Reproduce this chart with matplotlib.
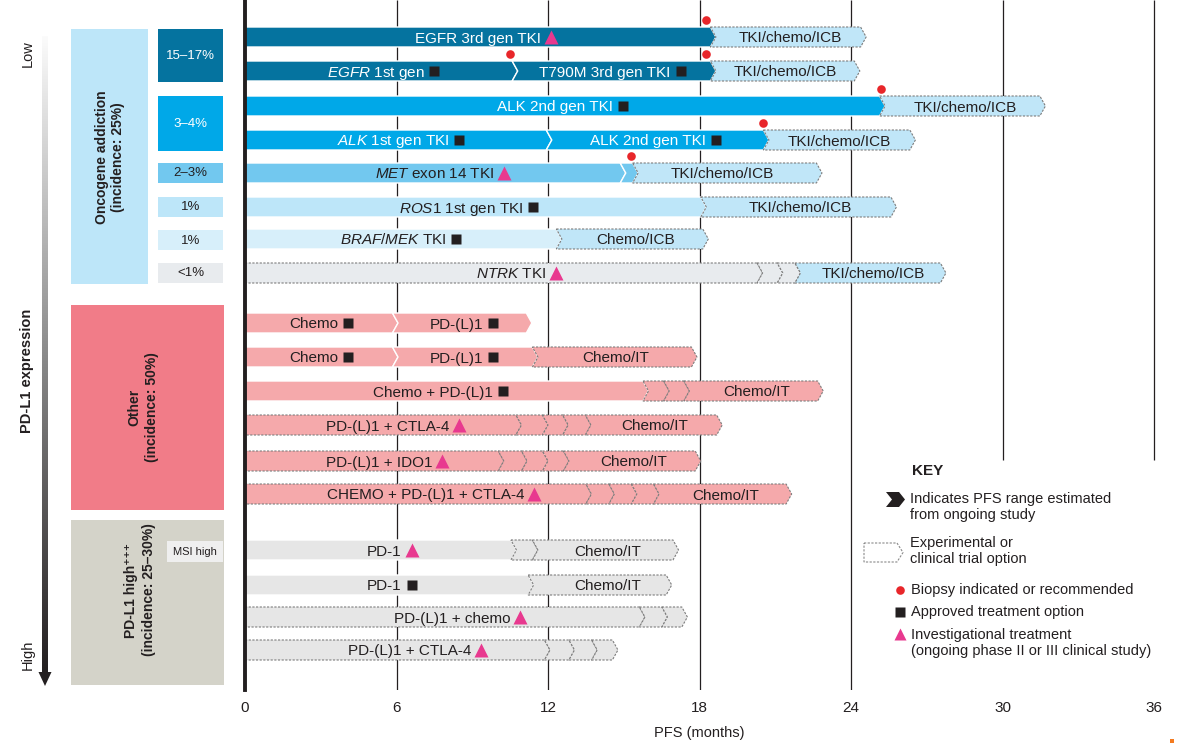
import numpy as np
import matplotlib
matplotlib.use('Agg')
import matplotlib.pyplot as plt
from matplotlib import font_manager as fm
from matplotlib.patches import Polygon, Rectangle
from matplotlib.colors import LinearSegmentedColormap

names = {f.name for f in fm.fontManager.ttflist}
NARROW = 'Liberation Sans Narrow' if 'Liberation Sans Narrow' in names else 'Liberation Sans'
SANS = 'Liberation Sans'
plt.rcParams['font.family'] = [SANS, 'DejaVu Sans']
plt.rcParams['mathtext.fontset'] = 'custom'
plt.rcParams['mathtext.rm'] = NARROW
plt.rcParams['mathtext.it'] = NARROW + ':italic'
plt.rcParams['mathtext.bf'] = SANS + ':bold'

# ---------------- data (PFS in months) ----------------
# segment boundaries per row, top to bottom
seg_bounds = [
    [0, 18.65, 24.6],
    [0, 10.8, 18.65, 24.35],
    [0, 25.35, 31.7],
    [0, 12.15, 20.75, 26.55],
    [0, 15.08, 15.57, 22.85],
    [0, 18.27, 25.8],
    [0, 12.55, 18.35],
    [0, 20.5, 21.3, 22.0, 27.76],
    [0, 6.06, 11.36],
    [0, 6.06, 11.6, 17.9],
    [0, 15.98, 16.8, 17.6, 22.9],
    [0, 10.95, 12.0, 12.8, 13.7, 18.9],
    [0, 10.25, 11.17, 12.0, 12.83, 18.05],
    [0, 13.72, 14.63, 15.52, 16.4, 21.65],
    [0, 10.75, 11.6, 17.17],
    [0, 11.43, 16.9],
    [0, 15.84, 16.73, 17.52],
    [0, 12.08, 13.05, 13.95, 14.77],
]
# S = established option, D = experimental / clinical trial option
seg_kind = ['SD', 'SSD', 'SD', 'SSD', 'SSD', 'SD', 'SD', 'DDDD',
            'SS', 'SSD', 'SDDD', 'DDDDD', 'DDDDD', 'DDDDD', 'SDD', 'SD', 'DDD', 'DDDD']
seg_label = [
    ['EGFR 3rd gen TKI', 'TKI/chemo/ICB'],
    [r'$\mathit{EGFR}$ 1st gen', 'T790M 3rd gen TKI', 'TKI/chemo/ICB'],
    ['ALK 2nd gen TKI', 'TKI/chemo/ICB'],
    [r'$\mathit{ALK}$ 1st gen TKI', 'ALK 2nd gen TKI', 'TKI/chemo/ICB'],
    [r'$\mathit{MET}$ exon 14 TKI', '', 'TKI/chemo/ICB'],
    [r'$\mathit{ROS1}$ 1st gen TKI', 'TKI/chemo/ICB'],
    [r'$\mathit{BRAF/MEK}$ TKI', 'Chemo/ICB'],
    [r'$\mathit{NTRK}$ TKI', '', '', 'TKI/chemo/ICB'],
    ['Chemo', 'PD-(L)1'],
    ['Chemo', 'PD-(L)1', 'Chemo/IT'],
    ['Chemo + PD-(L)1', '', '', 'Chemo/IT'],
    ['PD-(L)1 + CTLA-4', '', '', '', 'Chemo/IT'],
    ['PD-(L)1 + IDO1', '', '', '', 'Chemo/IT'],
    ['CHEMO + PD-(L)1 + CTLA-4', '', '', '', 'Chemo/IT'],
    ['PD-1', '', 'Chemo/IT'],
    ['PD-1', 'Chemo/IT'],
    ['PD-(L)1 + chemo', '', ''],
    ['PD-(L)1 + CTLA-4', '', '', ''],
]
# A = approved treatment, I = investigational treatment
seg_mark = [
    ['I', ''], ['A', 'A', ''], ['A', ''], ['A', 'A', ''], ['I', '', ''],
    ['A', ''], ['A', ''], ['I', '', '', ''],
    ['A', 'A'], ['A', 'A', ''], ['A', '', '', ''], ['I', '', '', '', ''],
    ['I', '', '', '', ''], ['I', '', '', '', ''],
    ['I', '', ''], ['A', ''], ['I', '', ''], ['I', '', '', ''],
]
# biopsy indicated: (row, month)
biopsy = [(0, 18.25), (1, 10.5), (1, 18.25), (2, 25.2), (3, 20.5), (4, 15.3)]

pct_labels = ['15\u201317%', '3\u20134%', '2\u20133%', '1%', '1%', '<1%']
group_labels = ['Oncogene addiction\n(incidence: 25%)',
                'Other\n(incidence: 50%)',
                'PD-L1 high\u207a\u207a\u207a\n(incidence: 25\u201330%)']
xticks = [0, 6, 12, 18, 24, 30, 36]

# ---------------- layout ----------------
W, H = 1185, 747
X0, PXM = 245, 25.25            # x pixel of 0 months, pixels per month
AX_BOTTOM = 690
row_y = [37, 71, 106, 140, 173, 207, 239, 273,
         323, 357, 391, 425, 461, 494,
         550, 585, 617, 650]
label_x = [
    [9.54, 21.58], [5.47, 14.57, 21.41], [12.59, 28.51], [6.18, 16.26, 23.52],
    [7.8, None, 18.89], [8.85, 22.0], [6.16, 15.47], [10.85, None, None, 24.87],
    [3.03, 8.67], [3.03, 8.67, 14.69], [7.76, None, None, 20.28],
    [5.94, None, None, None, 16.24], [5.62, None, None, None, 15.4],
    [7.45, None, None, None, 19.05], [5.82, None, 14.38], [5.82, 14.38],
    [8.51, None, None], [6.81, None, None, None],
]

DARK = '#231f20'
TRIAL_BLUE = '#c0e6f8'
row_fill = ['#05739f', '#05739f', '#00a8e8', '#00a8e8', '#72c8ef', '#bde6f9',
            '#d7effa', '#e8ebee'] + ['#f5a9ab'] * 6 + ['#e6e6e6'] * 4
BAR_H = 10
CHEV = 0.22
BAR_FS = 11.5 if NARROW != SANS else 11

fig = plt.figure(figsize=(W / 100, H / 100), dpi=100)
ax = fig.add_axes([X0 / W, 1 - AX_BOTTOM / H, (W - X0) / W, AX_BOTTOM / H])
ax.set_xlim(0, (W - X0) / PXM)
ax.set_ylim(AX_BOTTOM, 0)
for s in ['top', 'right', 'bottom']:
    ax.spines[s].set_visible(False)
ax.spines['left'].set_linewidth(2.8)
ax.spines['left'].set_color(DARK)
ax.set_yticks([])
ax.set_xticks(xticks)
ax.tick_params(axis='x', length=0, pad=8, labelsize=11, colors=DARK)
for lbl in ax.get_xticklabels():
    lbl.set_family(NARROW)
ax.text(18, 733, 'PFS (months)', ha='center', va='center', fontsize=10.5,
        family=NARROW, color=DARK, clip_on=False)

for v in xticks[1:]:
    top_end = 460 if v >= 30 else AX_BOTTOM
    ax.vlines(v, 0, top_end, color=DARK, lw=0.9, zorder=0)


def seg_poly(a, b, y, notch):
    top, bot = y - BAR_H, y + BAR_H
    if notch:
        pts = [(a - CHEV, top), (b - CHEV, top), (b, y), (b - CHEV, bot), (a - CHEV, bot), (a, y)]
    else:
        pts = [(a, top), (b - CHEV, top), (b, y), (b - CHEV, bot), (a, bot)]
    return pts


renderer = fig.canvas.get_renderer()
ppm = ax.transData.transform((1, 0))[0] - ax.transData.transform((0, 0))[0]
bar_fs_px = BAR_FS * 100 / 72

for r, bnd in enumerate(seg_bounds):
    y = row_y[r]
    nseg = len(bnd) - 1
    for k in range(nseg):
        a, b = bnd[k], bnd[k + 1]
        kind = seg_kind[r][k]
        fill = row_fill[r]
        if kind == 'D' and (r < 7 or (r == 7 and k == nseg - 1)):
            fill = TRIAL_BLUE
        if kind == 'S':
            p = Polygon(seg_poly(a, b, y, k > 0), closed=True, facecolor=fill,
                        edgecolor='white', lw=1.0, zorder=2 + k * 0.01)
        else:
            p = Polygon(seg_poly(a, b, y, k > 0), closed=True, facecolor=fill,
                        edgecolor='#7d7d7d', lw=0.8, linestyle=(0, (2, 1.3)),
                        zorder=2 + k * 0.01)
        ax.add_patch(p)

        lab = seg_label[r][k]
        if not lab:
            continue
        tcol = 'white' if (r < 4 and kind == 'S') else DARK
        cx = label_x[r][k]
        t = ax.text(cx, y + 0.36 * bar_fs_px, lab, ha='left', va='baseline',
                    fontsize=BAR_FS, family=NARROW, color=tcol, zorder=4)
        w = t.get_window_extent(renderer).width / ppm
        mk = seg_mark[r][k]
        gap = 4.5 / ppm
        msz = 11 / ppm
        group = w + (gap + msz if mk else 0)
        start = cx - group / 2
        t.set_x(start)
        if mk == 'A':
            ax.plot(start + w + gap + msz / 2, y, marker='s', ms=7.4, color=DARK,
                    mec='none', zorder=5)
        elif mk == 'I':
            ax.plot(start + w + gap + msz / 2, y, marker='^', ms=9.5, color='#e8398f',
                    mec='none', zorder=5)

for r, m in biopsy:
    ax.plot(m, row_y[r] - 17, marker='o', ms=6.2, color='#e8262a', mec='none',
            zorder=6, clip_on=False)

# ---------------- overlay in pixel coords: left panel + key ----------------
ov = fig.add_axes([0, 0, 1, 1], zorder=5)
ov.patch.set_visible(False)
ov.axis('off')

grad = np.linspace(0, 1, 256).reshape(-1, 1)
gcmap = LinearSegmentedColormap.from_list('g', ['#fbfbfb', '#8a8a8a', DARK])
ov.imshow(grad, extent=[42, 48, 674, 36], cmap=gcmap, aspect='auto', zorder=1)
ov.add_patch(Polygon([(38.5, 672), (51.5, 672), (45, 686)], closed=True,
                     facecolor=DARK, edgecolor='none', zorder=2))
ov.text(28, 54, 'Low', rotation=90, ha='center', va='center', fontsize=10.5, color=DARK)
ov.text(28, 655, 'High', rotation=90, ha='center', va='center', fontsize=10.5, color=DARK)
ov.text(27, 371, 'PD-L1 expression', rotation=90, ha='center', va='center',
        fontsize=10.5, fontweight='bold', color=DARK)

# group boxes
ov.add_patch(Rectangle((71, 29), 77, 255, facecolor='#bde6f9', edgecolor='none'))
ov.add_patch(Rectangle((71, 305), 153, 205, facecolor='#f17c88', edgecolor='none'))
ov.add_patch(Rectangle((71, 520), 153, 165, facecolor='#d4d3c9', edgecolor='none'))
ov.text(110, 157, group_labels[0], rotation=90, ha='center', va='center',
        multialignment='center', fontsize=10, fontweight='bold', color=DARK, linespacing=1.25)
ov.text(143, 407, group_labels[1], rotation=90, ha='center', va='center',
        multialignment='center', fontsize=10, fontweight='bold', color=DARK, linespacing=1.35)
ov.text(140, 590, group_labels[2], rotation=90, ha='center', va='center',
        multialignment='center', fontsize=10, fontweight='bold', color=DARK, linespacing=1.3,
        family=[SANS, 'DejaVu Sans'])

# incidence boxes
pct_box = [(29, 82), (96, 151), (163, 183), (197, 217), (230, 250), (263, 283)]
pct_fill = ['#05739f', '#00a8e8', '#72c8ef', '#bde6f9', '#d7effa', '#e8ebee']
for lab, (y0, y1), fc in zip(pct_labels, pct_box, pct_fill):
    ov.add_patch(Rectangle((158, y0), 65, y1 - y0, facecolor=fc, edgecolor='none'))
    tc = 'white' if fc in ('#05739f', '#00a8e8') else DARK
    ov.text(190.5, (y0 + y1) / 2 + 0.5, lab, ha='center', va='center', fontsize=9.5, color=tc)

ov.add_patch(Rectangle((167, 541), 56, 21, facecolor='#efefef', edgecolor='none'))
ov.text(195, 552, 'MSI high', ha='center', va='center', fontsize=8, family=NARROW, color=DARK)

# key
ov.add_patch(Rectangle((858, 462), 327, 228, facecolor='white', edgecolor='none', zorder=0))
ov.text(912, 471, 'KEY', ha='left', va='center', fontsize=11, fontweight='bold', color=DARK)
ov.add_patch(Polygon([(886, 492), (899, 492), (905, 499.5), (899, 507), (886, 507), (892, 499.5)],
                     closed=True, facecolor=DARK, edgecolor='none'))
ov.text(910, 507, 'Indicates PFS range estimated\nfrom ongoing study', ha='left',
        va='center', fontsize=10.5, color=DARK, linespacing=1.2)
ov.add_patch(Polygon([(864, 543), (897, 543), (903, 552.5), (897, 562), (864, 562)],
                     closed=True, facecolor='white', edgecolor='#8a8a8a', lw=0.8,
                     linestyle=(0, (2, 1.3))))
ov.text(910, 551, 'Experimental or\nclinical trial option', ha='left', va='center',
        fontsize=10.5, color=DARK, linespacing=1.2)
ov.plot(900, 590, marker='o', ms=6.2, color='#e8262a', mec='none')
ov.text(911, 590, 'Biopsy indicated or recommended', ha='left', va='center',
        fontsize=10.5, color=DARK)
ov.plot(900, 612, marker='s', ms=7.2, color=DARK, mec='none')
ov.text(911, 612, 'Approved treatment option', ha='left', va='center',
        fontsize=10.5, color=DARK)
ov.plot(900, 634, marker='^', ms=9, color='#e8398f', mec='none')
ov.text(911, 643, 'Investigational treatment\n(ongoing phase II or III clinical study)',
        ha='left', va='center', fontsize=10.5, color=DARK, linespacing=1.2)

ov.add_patch(Rectangle((1170, 739), 4, 4, facecolor='#f47b20', edgecolor='none'))

ov.set_xlim(0, W)
ov.set_ylim(H, 0)

fig.savefig('out.png', dpi=100)
